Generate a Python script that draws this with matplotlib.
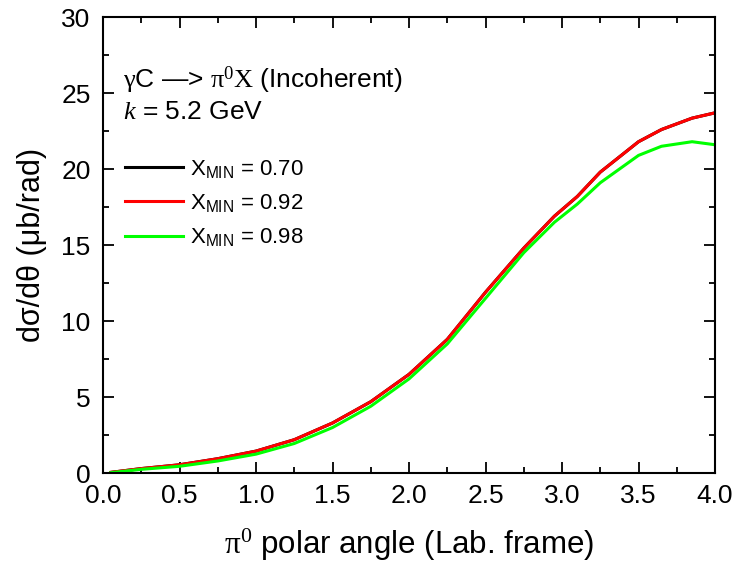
import matplotlib
matplotlib.use("Agg")
import matplotlib.pyplot as plt
from matplotlib.ticker import MultipleLocator, FormatStrFormatter

# valores
angulo = [0.05, 0.25, 0.5, 0.75, 1.0, 1.25, 1.5, 1.75, 2.0, 2.25, 2.5, 2.75, 2.95, 3.1, 3.25, 3.5, 3.65, 3.85, 4.0]
xmin_070 = [0.05, 0.3, 0.55, 0.95, 1.45, 2.2, 3.3, 4.7, 6.5, 8.8, 11.9, 14.8, 16.9, 18.2, 19.8, 21.8, 22.6, 23.35, 23.7]
xmin_092 = [0.05, 0.3, 0.55, 0.95, 1.45, 2.2, 3.3, 4.7, 6.5, 8.8, 11.9, 14.8, 16.9, 18.2, 19.8, 21.8, 22.6, 23.35, 23.7]
xmin_098 = [0.03, 0.25, 0.45, 0.8, 1.25, 1.95, 3.0, 4.4, 6.2, 8.5, 11.5, 14.5, 16.5, 17.7, 19.1, 20.9, 21.5, 21.8, 21.6]

etiquetas = ["X$_{\\mathsf{MIN}}$ = 0.70", "X$_{\\mathsf{MIN}}$ = 0.92", "X$_{\\mathsf{MIN}}$ = 0.98"]
colores = ["black", "#ff0000", "#00ff00"]

plt.rcParams["font.family"] = ["Liberation Sans", "DejaVu Sans"]
plt.rcParams["mathtext.fontset"] = "custom"
plt.rcParams["mathtext.rm"] = "Liberation Serif"
plt.rcParams["mathtext.it"] = "Liberation Serif:italic"
plt.rcParams["mathtext.sf"] = "Liberation Sans"

fig = plt.figure(figsize=(7.36, 5.68), dpi=100)
ax = fig.add_axes([0.14, 0.167, 0.8315, 0.803])

for serie, color, etiqueta in zip([xmin_070, xmin_092, xmin_098], colores, etiquetas):
    ax.plot(angulo, serie, color=color, linewidth=2.2, label=etiqueta)

ax.set_xlim(0, 4.0)
ax.set_ylim(0, 30)
ax.xaxis.set_major_locator(MultipleLocator(0.5))
ax.xaxis.set_minor_locator(MultipleLocator(0.25))
ax.yaxis.set_major_locator(MultipleLocator(5))
ax.yaxis.set_minor_locator(MultipleLocator(2.5))
ax.xaxis.set_major_formatter(FormatStrFormatter("%.1f"))
ax.tick_params(which="both", direction="in", top=True, right=True, width=1.3)
ax.tick_params(which="major", length=8, labelsize=19)
ax.tick_params(which="minor", length=4)
ax.tick_params(axis="x", pad=8)
ax.tick_params(axis="y", pad=9)
for s in ax.spines.values():
    s.set_linewidth(1.5)

ax.set_xlabel("$\\mathrm{\\pi^0}$ polar angle (Lab. frame)", fontsize=22.5, labelpad=13)
ax.set_ylabel("d\u03c3/d\u03b8 (\u03bcb/rad)", fontsize=22, labelpad=10)

ax.text(0.032, 0.862, "$\\mathrm{\\gamma}$C \u2014> $\\mathrm{\\pi^0X}$ (Incoherent)",
        transform=ax.transAxes, fontsize=19, va="center")
ax.text(0.032, 0.792, "$\\mathit{k}$ = 5.2 GeV", transform=ax.transAxes, fontsize=19, va="center")

ax.legend(loc="upper left", bbox_to_anchor=(0.011, 0.725), frameon=False, fontsize=16,
          handlelength=2.6, handletextpad=0.3, labelspacing=0.55, borderaxespad=0.3)

plt.savefig("out.png", dpi=100)
